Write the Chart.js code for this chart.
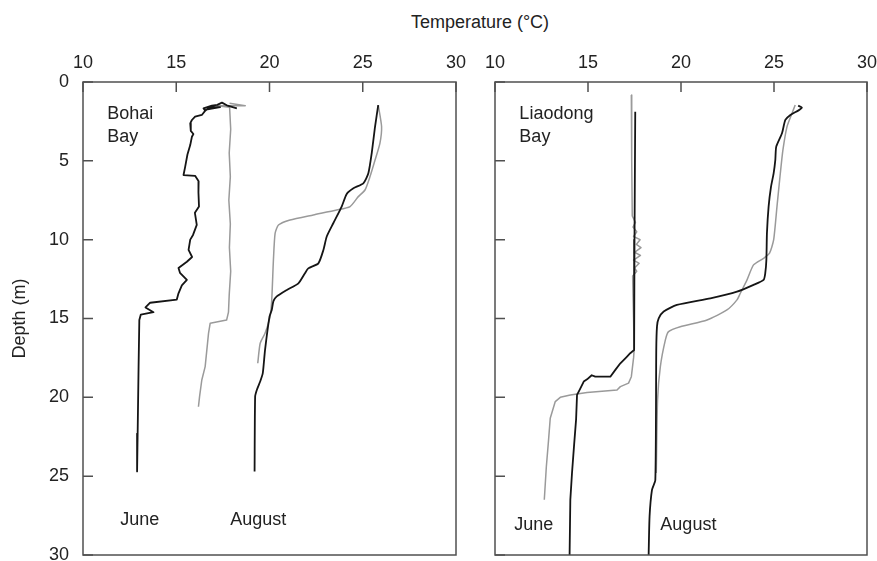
<!DOCTYPE html>
<html>
<head>
<meta charset="utf-8">
<title>Temperature profiles</title>
<script src="https://cdn.jsdelivr.net/npm/chart.js@4.4.1/dist/chart.umd.min.js"></script>
<style>
  html, body { margin: 0; padding: 0; background: #fff; }
  #wrap { position: relative; width: 877px; height: 561px; overflow: hidden;
          font-family: 'Liberation Sans', Arial, sans-serif; }
  .panel { position: absolute; top: 0; height: 561px; }
  #title { position: absolute; left: 380px; width: 200px; top: 11px; text-align: center;
           font-size: 18px; line-height: 22px; color: #222; }
</style>
</head>
<body>
<div id="wrap">
  <div id="title">Temperature (°C)</div>
  <div class="panel" style="left:0;width:470px"><canvas id="bohai" width="470" height="561"></canvas></div>
  <div class="panel" style="left:470px;width:407px"><canvas id="liaodong" width="407" height="561"></canvas></div>
</div>
<script>
( function () {
	'use strict';

	// ── Data (temperature °C vs depth m) ────────────────────────────────

	const TEMP_TICKS  = [ 10, 15, 20, 25, 30 ];
	const DEPTH_TICKS = [ 0, 5, 10, 15, 20, 25, 30 ];

	// Bohai Bay, June – black profile
	const BOHAI_JUNE_A_T = [ 18.25, 17.71, 17.45, 17.2, 16.91, 16.46, 16.55, 16.82, 17.35, 16.6,
		16.37, 16.01, 15.84, 15.75, 15.78, 15.92, 15.84, 15.75, 15.6, 15.48,
		15.39, 16.01, 16.2, 16.19, 16.22, 16.0, 16.1, 15.9, 15.75, 15.66,
		15.85, 15.57, 15.12, 15.2, 15.57, 15.3, 15.12, 15.03, 13.6, 13.35,
		13.78, 13.1, 13.02, 12.98, 12.93, 12.9 ];
	const BOHAI_JUNE_A_D = [ 1.67, 1.48, 1.31, 1.45, 1.5, 1.67, 1.82, 1.6, 1.6, 1.75,
		2.09, 2.2, 2.41, 2.62, 3.1, 3.3, 3.47, 4.0, 4.6, 5.37,
		5.9, 5.95, 6.3, 7.0, 7.9, 8.3, 9.06, 9.7, 10.0, 10.65,
		11.1, 11.4, 11.8, 12.1, 12.55, 12.9, 13.4, 13.8, 14.0, 14.3,
		14.6, 14.75, 15.1, 18.05, 22.3, 24.7 ];

	// Bohai Bay, June – grey profile
	const BOHAI_JUNE_B_T = [ 17.86, 18.7, 17.2, 17.86, 17.92, 17.84, 17.9, 17.82, 17.9, 17.85,
		17.92, 17.84, 17.8, 17.7, 16.82, 16.73, 16.55, 16.37, 16.25, 16.19 ];
	const BOHAI_JUNE_B_D = [ 1.35, 1.5, 1.5, 1.6, 3.0, 4.5, 6.0, 7.5, 9.0, 10.5,
		12.0, 13.5, 14.6, 15.1, 15.3, 15.94, 18.05, 18.9, 19.95, 20.6 ];

	// Bohai Bay, August – black profile
	const BOHAI_AUG_A_T = [ 25.83, 25.66, 25.48, 25.3, 25.03, 24.5, 24.14, 23.87, 23.42, 23.07,
		22.89, 22.62, 22.08, 21.9, 21.55, 20.93, 20.39, 20.21, 20.12, 20.0,
		19.76, 19.64, 19.5, 19.32, 19.23, 19.2 ];
	const BOHAI_AUG_A_D = [ 1.46, 2.83, 4.52, 5.79, 6.43, 6.74, 7.1, 7.9, 8.96, 9.8,
		10.65, 11.5, 11.82, 12.13, 12.77, 13.19, 13.6, 13.9, 14.46, 14.88,
		17.0, 18.47, 19.0, 19.53, 19.95, 24.7 ];

	// Bohai Bay, August – grey profile
	const BOHAI_AUG_B_T = [ 25.83, 26.01, 25.92, 25.66, 25.39, 25.12, 24.76, 24.32, 23.6, 22.35,
		21.1, 20.48, 20.3, 20.21, 20.12, 20.03, 19.76, 19.5, 19.37 ];
	const BOHAI_AUG_B_D = [ 1.46, 2.83, 3.89, 4.95, 6.0, 6.85, 7.27, 7.9, 8.12, 8.43,
		8.75, 9.07, 9.6, 11.29, 13.82, 14.88, 15.94, 16.57, 17.84 ];

	// Liaodong Bay, June – black profile
	const LIAO_JUNE_A_T = [ 17.54, 17.5, 17.48, 17.27, 17.06, 16.74, 16.47, 16.2, 15.39, 15.2,
		14.95, 14.77, 14.59, 14.41, 14.36, 14.26, 14.14, 14.05, 14.01 ];
	const LIAO_JUNE_A_D = [ 1.88, 10.0, 17.0, 17.2, 17.46, 17.84, 18.26, 18.69, 18.69, 18.6,
		18.86, 19.0, 19.43, 19.85, 21.4, 22.9, 24.8, 26.5, 30.0 ];

	// Liaodong Bay, June – grey profile (small tangle between 8.5 and 12.5 m)
	const LIAO_JUNE_B_T = [ 17.33, 17.35, 17.38, 17.55, 17.42, 17.62, 17.45, 17.8, 17.6, 17.85,
		17.5, 17.82, 17.45, 17.75, 17.5, 17.62, 17.4, 17.42, 17.45, 17.48,
		17.45, 17.33, 17.18, 16.74, 16.56, 14.95, 14.05, 13.51, 13.24, 12.97,
		12.88, 12.76, 12.65 ];
	const LIAO_JUNE_B_D = [ 0.82, 5.0, 8.5, 8.9, 9.2, 9.5, 9.8, 10.0, 10.3, 10.5,
		10.8, 11.0, 11.3, 11.5, 11.8, 12.0, 12.3, 13.5, 15.0, 17.0,
		17.5, 18.69, 19.1, 19.32, 19.53, 19.7, 19.85, 20.0, 20.27, 21.33,
		22.7, 24.4, 26.5 ];

	// Liaodong Bay, August – black profile
	const LIAO_AUG_A_T = [ 26.3, 26.5, 26.32, 25.88, 25.61, 25.43, 25.12, 25.07, 24.98, 24.84,
		24.71, 24.62, 24.59, 24.53, 24.44, 23.9, 23.01, 21.58, 19.78, 19.07,
		18.8, 18.71, 18.67, 18.62, 18.44, 18.31, 18.26 ];
	const LIAO_AUG_A_D = [ 1.5, 1.62, 1.8, 2.09, 2.41, 3.25, 4.1, 4.95, 5.79, 6.64,
		7.9, 9.6, 11.29, 12.13, 12.55, 12.87, 13.3, 13.72, 14.14, 14.56,
		14.99, 15.5, 17.0, 25.24, 25.87, 27.56, 30.0 ];

	// Liaodong Bay, August – grey profile
	const LIAO_AUG_B_T = [ 26.14, 25.97, 25.7, 25.48, 25.34, 25.16, 24.98, 24.76, 24.44, 23.9,
		23.55, 23.19, 23.01, 22.47, 21.4, 19.96, 19.33, 19.16, 18.89, 18.74, 18.67 ];
	const LIAO_AUG_B_D = [ 1.46, 1.98, 2.83, 4.31, 5.79, 7.9, 10.02, 10.86, 11.18, 11.6,
		12.55, 13.4, 13.82, 14.46, 15.09, 15.52, 15.83, 16.36, 18.05, 20.16, 24.8 ];

	// ── Helpers ──────────────────────────────────────────────────────────

	const FONT   = '"Liberation Sans", Arial, sans-serif';
	const BLACK  = '#151515';
	const GREY   = '#9a9a9a';
	const FRAME  = '#505050';

	function points( temps, depths ) {
		return depths.map( function ( d, i ) { return { x: temps[ i ], y: d }; } );
	}

	function profile( label, temps, depths, colour, width, tension ) {
		return {
			label: label,
			data: points( temps, depths ),
			showLine: true,
			borderColor: colour,
			borderWidth: width,
			pointRadius: 0,
			tension: tension || 0,
			borderJoinStyle: 'round',
		};
	}

	// the panels are laid out by fixed sizes, so drop the label overflow padding
	function noPadding( s ) {
		s.paddingLeft = 0;
		s.paddingRight = 0;
		s.paddingTop = 0;
		s.paddingBottom = 0;
	}

	// Frame, inward tick marks and the in-panel notes
	const framePlugin = {
		id: 'frame',
		afterDraw: function ( chart, args, opts ) {
			const ctx = chart.ctx;
			const a   = chart.chartArea;
			const sx  = chart.scales.x;
			const sy  = chart.scales.y;
			ctx.save();
			ctx.strokeStyle = FRAME;
			ctx.lineWidth = 1.5;
			ctx.beginPath();
			sx.ticks.forEach( function ( t ) {
				const x = sx.getPixelForValue( t.value );
				ctx.moveTo( x, a.top );
				ctx.lineTo( x, a.top + 10 );
			} );
			sy.ticks.forEach( function ( t ) {
				const y = sy.getPixelForValue( t.value );
				ctx.moveTo( a.left, y );
				ctx.lineTo( a.left + 10, y );
			} );
			ctx.stroke();
			ctx.strokeRect( a.left, a.top, a.right - a.left, a.bottom - a.top );

			ctx.fillStyle = '#222';
			ctx.font = '18px ' + FONT;
			ctx.textBaseline = 'middle';
			ctx.textAlign = 'left';
			( opts.notes || [] ).forEach( function ( n ) {
				ctx.fillText( n.text, sx.getPixelForValue( n.t ), sy.getPixelForValue( n.d ) );
			} );
			ctx.restore();
		},
	};

	function buildPanel( id, datasets, notes, yWidth, padRight, showDepth ) {
		return new Chart( document.getElementById( id ), {
			type: 'scatter',
			data: { datasets: datasets },
			plugins: [ framePlugin ],
			options: {
				responsive: false,
				animation: false,
				devicePixelRatio: 1,
				layout: { padding: { top: 0, right: padRight, bottom: 6, left: 0 } },
				plugins: {
					legend: { display: false },
					tooltip: { enabled: false },
					frame: { notes: notes },
				},
				scales: {
					x: {
						type: 'linear',
						position: 'top',
						min: 10,
						max: 30,
						afterBuildTicks: function ( s ) {
							s.ticks = TEMP_TICKS.map( function ( v ) { return { value: v }; } );
						},
						afterFit: function ( s ) { s.height = 82; noPadding( s ); },
						grid: { display: false, drawTicks: false },
						border: { display: false },
						ticks: {
							color: '#222',
							padding: 8,
							maxRotation: 0,
							font: { family: FONT, size: 18 },
						},
					},
					y: {
						type: 'linear',
						reverse: true,
						min: 0,
						max: 30,
						afterBuildTicks: function ( s ) {
							s.ticks = DEPTH_TICKS.map( function ( v ) { return { value: v }; } );
						},
						afterFit: function ( s ) { s.width = yWidth; noPadding( s ); },
						grid: { display: false, drawTicks: false },
						border: { display: false },
						ticks: {
							display: showDepth,
							color: '#222',
							padding: 14,
							font: { family: FONT, size: 18 },
						},
						title: {
							display: showDepth,
							text: 'Depth (m)',
							color: '#222',
							padding: { top: 9, bottom: 0 },
							font: { family: FONT, size: 18 },
						},
					},
				},
			},
		} );
	}

	// ── Init ─────────────────────────────────────────────────────────────

	buildPanel( 'bohai', [
		profile( 'June (black)', BOHAI_JUNE_A_T, BOHAI_JUNE_A_D, BLACK, 1.8 ),
		profile( 'June (grey)', BOHAI_JUNE_B_T, BOHAI_JUNE_B_D, GREY, 1.5 ),
		profile( 'August (black)', BOHAI_AUG_A_T, BOHAI_AUG_A_D, BLACK, 1.8, 0.2 ),
		profile( 'August (grey)', BOHAI_AUG_B_T, BOHAI_AUG_B_D, GREY, 1.5, 0.2 ),
	], [
		{ text: 'Bohai', t: 11.3, d: 2.06 },
		{ text: 'Bay', t: 11.3, d: 3.52 },
		{ text: 'June', t: 12.0, d: 27.8 },
		{ text: 'August', t: 17.9, d: 27.8 },
	], 83, 14, true );

	buildPanel( 'liaodong', [
		profile( 'June (black)', LIAO_JUNE_A_T, LIAO_JUNE_A_D, BLACK, 1.8 ),
		profile( 'June (grey)', LIAO_JUNE_B_T, LIAO_JUNE_B_D, GREY, 1.5 ),
		profile( 'August (black)', LIAO_AUG_A_T, LIAO_AUG_A_D, BLACK, 1.8, 0.2 ),
		profile( 'August (grey)', LIAO_AUG_B_T, LIAO_AUG_B_D, GREY, 1.5, 0.2 ),
	], [
		{ text: 'Liaodong', t: 11.31, d: 2.06 },
		{ text: 'Bay', t: 11.31, d: 3.52 },
		{ text: 'June', t: 11.04, d: 28.1 },
		{ text: 'August', t: 18.89, d: 28.1 },
	], 25, 10, false );
} )();
</script>
</body>
</html>
